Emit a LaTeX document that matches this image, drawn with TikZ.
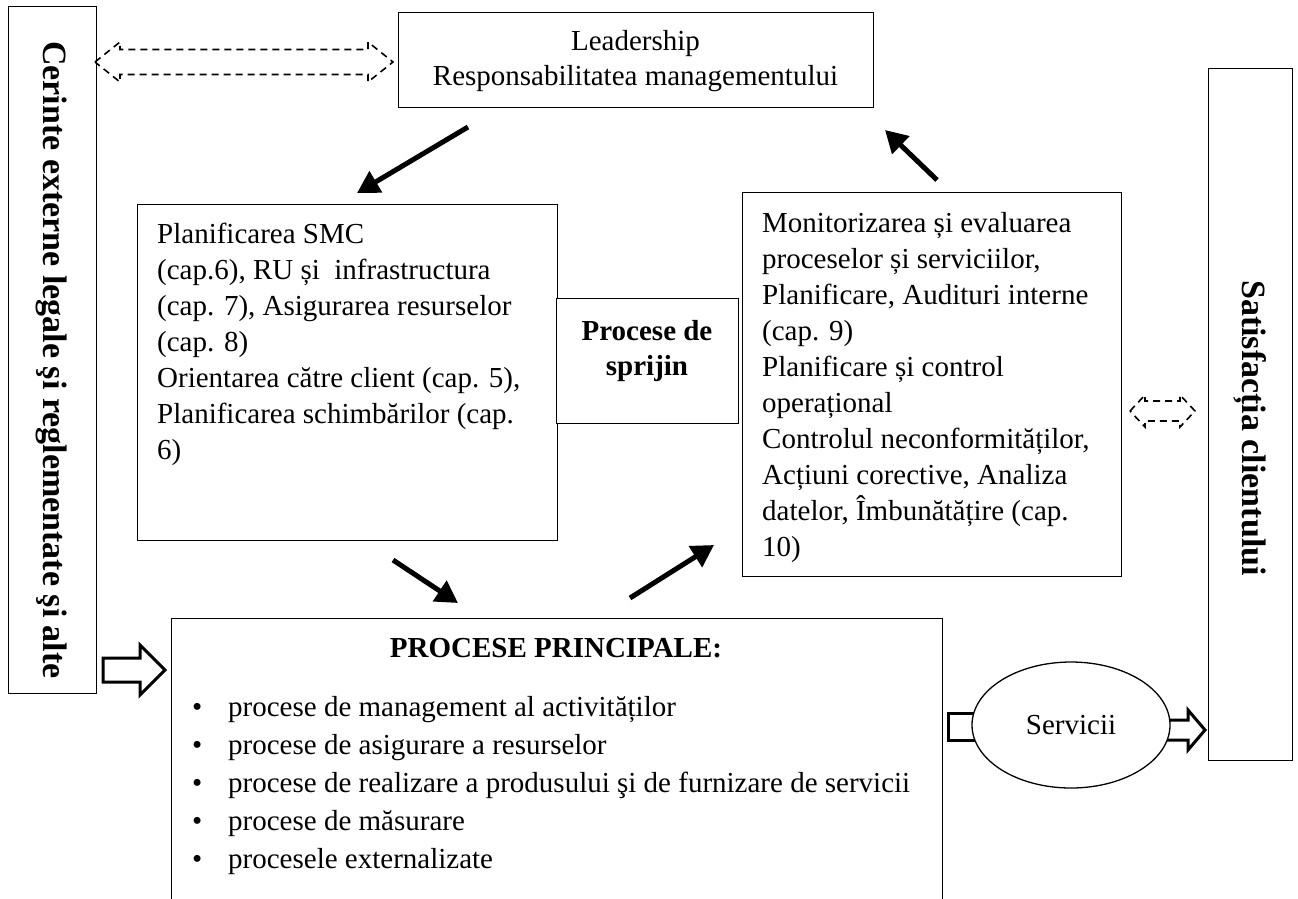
\documentclass[tikz,border=0pt]{standalone}
\usepackage{fontspec}
\setmainfont{Liberation Serif}
\usetikzlibrary{calc,shapes.geometric,arrows.meta}

\begin{document}
\begin{tikzpicture}[x=1pt,y=-1pt,
  box/.style={draw, line width=1.3pt, inner sep=0pt, anchor=north west},
  body/.style={inner sep=0pt, anchor=north west, align=left,
               font=\fontsize{29}{36}\selectfont},
  sidelabel/.style={inner sep=0pt, rotate=-90,
               font=\bfseries\fontsize{34}{40}\selectfont},
  flow/.style={line width=5pt, -{Triangle[length=22pt,width=24pt]}},
  openarrow/.style={draw, line width=3pt, fill=white, line join=miter},
  dasharrow/.style={draw, line width=1.6pt, dash pattern=on 7pt off 5pt}
]
\useasboundingbox (0,0) rectangle (1298,898);
\clip (0,0) rectangle (1298,898);

% outer requirement columns
\node[box, minimum width=88, minimum height=687] (req) at (8,6) {};
\node[sidelabel] (reqtext) at (52,360) {Cerinte externe legale şi reglementate şi alte};
\node[box, minimum width=84, minimum height=692] (sat) at (1208,68) {};
\node[sidelabel] (sattext) at (1250,428) {Satisfacția clientului};

% leadership
\node[box, minimum width=475, minimum height=95] (lead) at (398,12) {};
\node[inner sep=0pt, anchor=north, align=center,
      font=\fontsize{29}{35}\selectfont] (leadtext) at (635.5,25.5)
  {\strut Leadership\\Responsabilitatea managementului};

% planning block
\node[box, minimum width=420, minimum height=336] (plan) at (137,204) {};
\node[body] (plantext) at (157,218) {\strut Planificarea SMC\\
(cap.6), RU și~~infrastructura\\
(cap. 7), Asigurarea resurselor\\
(cap. 8)\\
Orientarea către client (cap. 5),\\
Planificarea schimbărilor (cap.\\
6)};

% support processes
\node[box, fill=white, minimum width=182, minimum height=125] (sup) at (556,298) {};
\node[inner sep=0pt, anchor=north, align=center,
      font=\bfseries\fontsize{29}{35}\selectfont] (suptext) at (647,315.5)
  {\strut Procese de\\sprijin};

% monitoring block
\node[box, minimum width=379, minimum height=384] (mon) at (742,192) {};
\node[body] (montext) at (762,207) {\strut Monitorizarea și evaluarea\\
proceselor și serviciilor,\\
Planificare, Audituri interne\\
(cap. 9)\\
Planificare și control\\
operațional\\
Controlul neconformităților,\\
Acțiuni corective, Analiza\\
datelor, Îmbunătățire (cap.\\
10)};

% main processes
\node[box, minimum width=771, minimum height=300] (main) at (171,618) {};
\node[inner sep=0pt, anchor=base, font=\bfseries\fontsize{29}{35}\selectfont]
  (maintitle) at (556,657) {PROCESE PRINCIPALE:};
\node[inner sep=0pt, anchor=north west, align=left,
      font=\fontsize{29}{38}\selectfont] (mainlist) at (192,690)
  {\strut\makebox[36pt][l]{•}procese de management al activităților\\
   \makebox[36pt][l]{•}procese de asigurare a resurselor\\
   \makebox[36pt][l]{•}procese de realizare a produsului şi de furnizare de servicii\\
   \makebox[36pt][l]{•}procese de măsurare\\
   \makebox[36pt][l]{•}procesele externalizate};

% services: stub entering, arrow leaving, ellipse on top
\draw[openarrow] (1000,713) -- (948,713) -- (948,740) -- (1000,740);
\draw[openarrow] (1150,720) -- (1188,720) -- (1188,710) -- (1205,730)
  -- (1188,750) -- (1188,740) -- (1150,740) -- cycle;
\node[ellipse, draw, line width=1.3pt, fill=white, minimum width=198,
      minimum height=126, inner sep=0pt, font=\fontsize{29}{35}\selectfont]
  (serv) at (1071,725) {Servicii};

% input arrow from requirements
\draw[openarrow] (103,658) -- (140,658) -- (140,645) -- (165,670)
  -- (140,695) -- (140,682) -- (103,682) -- cycle;

% dashed two-way links
\draw[dasharrow] (95,62) -- (120,42) -- (120,49.5) -- (368,49.5) -- (368,42)
  -- (393,62) -- (368,82) -- (368,74.5) -- (120,74.5) -- (120,82) -- cycle;
\draw[dasharrow] (1130,411) -- (1145,395) -- (1145,401) -- (1180,401)
  -- (1180,395) -- (1195,411) -- (1180,427) -- (1180,421) -- (1145,421)
  -- (1145,427) -- cycle;

% cycle arrows
\coordinate (a1s) at (468,127);  \coordinate (a1e) at (357,193);
\coordinate (a2s) at (937,180);  \coordinate (a2e) at (885,130);
\coordinate (a3s) at (393,560);  \coordinate (a3e) at (458,603);
\coordinate (a4s) at (630,598);  \coordinate (a4e) at (714,545);
\draw[flow] (a1s) -- (a1e);
\draw[flow] (a2s) -- (a2e);
\draw[flow] (a3s) -- (a3e);
\draw[flow] (a4s) -- (a4e);
\end{tikzpicture}
\end{document}
